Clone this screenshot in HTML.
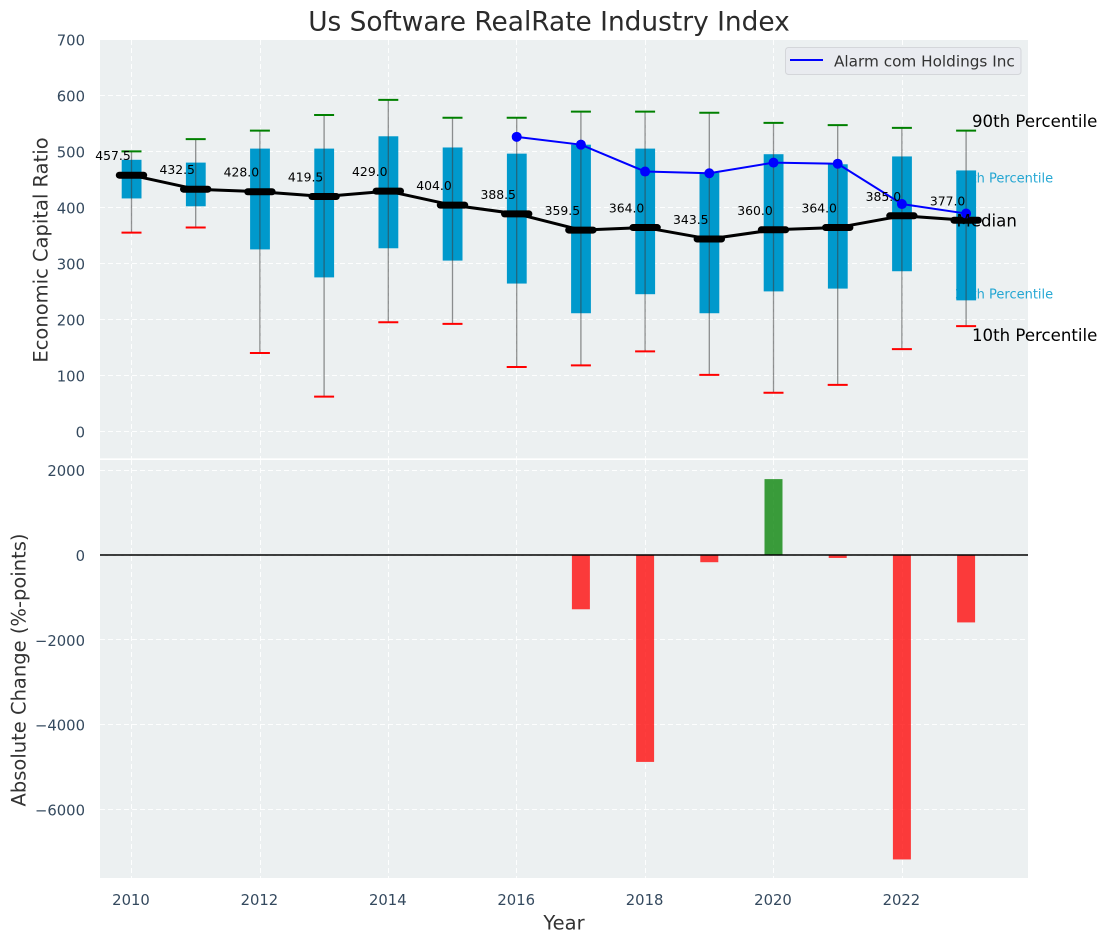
<!DOCTYPE html>
<html lang="en">
<head>
<meta charset="utf-8">
<title>Us Software RealRate Industry Index</title>
<style>
html,body{margin:0;padding:0;background:#fff;}
body{width:1107px;height:942px;overflow:hidden;}
svg{display:block;font-family:"DejaVu Sans","Liberation Sans",sans-serif;}
</style>
</head>
<body>
<svg id="chart" width="1107" height="942" viewBox="0 0 1107 942" xmlns="http://www.w3.org/2000/svg">
  <rect x="0" y="0" width="1107" height="942" fill="#ffffff"/>
  <rect x="100" y="40" width="928" height="418.5" fill="#ecf0f1"/>
  <rect x="100" y="460" width="928" height="418" fill="#ecf0f1"/>
  <g id="grid"></g>
  <g id="ticks" font-size="14.8" fill="#34495e"></g>
  <g id="percentile-notes" font-size="13" fill="#0099cc" fill-opacity="0.85">
    <text x="955" y="182.5">75th Percentile</text>
    <text x="955" y="298.5">25th Percentile</text>
  </g>
  <g id="boxes"></g>
  <g id="median"></g>
  <g id="alarm"></g>
  <g id="bars"></g>
  <g id="labels" font-size="12.4" fill="#000000"></g>
  <g font-size="16.6" fill="#000000">
    <text x="972" y="127">90th Percentile</text>
    <text x="956.5" y="226.5">Median</text>
    <text x="972" y="341">10th Percentile</text>
  </g>
  <g>
    <rect x="785.5" y="47.5" width="235.5" height="27" rx="3" fill="#e9ebf0" stroke="#d4d6da" stroke-width="1"/>
    <line x1="790" y1="60" x2="823" y2="60" stroke="#0000ff" stroke-width="2"/>
    <text x="834" y="66.5" font-size="15.25" fill="#333333">Alarm com Holdings Inc</text>
  </g>
  <text x="549" y="30.5" text-anchor="middle" font-size="26.4" fill="#2b2b2b">Us Software RealRate Industry Index</text>
  <text transform="translate(47.5,250) rotate(-90)" text-anchor="middle" font-size="19.5" fill="#333333">Economic Capital Ratio</text>
  <text transform="translate(25.5,670) rotate(-90)" text-anchor="middle" font-size="19.5" fill="#333333">Absolute Change (%-points)</text>
  <text x="564" y="929.5" text-anchor="middle" font-size="19.5" fill="#333333">Year</text>
</svg>
<script>
var years = [2010,2011,2012,2013,2014,2015,2016,2017,2018,2019,2020,2021,2022,2023];
var p90 = [500,522,537,565,592,560,560,571,571,569,551,547,542,537];
var p75 = [485,480,505,505,527,507,496,512,505,462,495,477,491,466];
var medianValues = [457.5,432.5,428,419.5,429,404,388.5,359.5,364,343.5,360,364,385,377];
var p25 = [416,402,325,275,327,305,264,211,245,211,250,255,286,234];
var p10 = [355,364,140,62,195,192,115,118,143,101,69,83,147,188];
var alarmYears = [2016,2017,2018,2019,2020,2021,2022,2023];
var alarmValues = [526,512,464,461,480,478,406,389];
var changeYears = [2017,2018,2019,2020,2021,2022,2023];
var changeValues = [-1280,-4880,-170,1790,-70,-7180,-1590];
var xTicks = [2010,2012,2014,2016,2018,2020,2022];
var topTicks = [0,100,200,300,400,500,600,700];
var bottomTicks = [2000,0,-2000,-4000,-6000];

function xScale(v){ return 131.5 + (v - 2010) * 64.2; }
function yTop(v){ return 431.4 - v * 0.56; }
function yBottom(v){ return 555 - v * 0.0424; }
function snap(v){ return Math.floor(v) + 0.5; }
function snapX(v){ return Math.round(v - 0.3) + 0.5; }

var NS = 'http://www.w3.org/2000/svg';
function add(parent, tag, attrs, text){
  var el = document.createElementNS(NS, tag);
  for (var k in attrs) el.setAttribute(k, attrs[k]);
  if (text !== undefined) el.textContent = text;
  document.getElementById(parent).appendChild(el);
  return el;
}
function fmt(v){ return v < 0 ? '\u2212' + Math.abs(v) : String(v); }
function seg(parent, x1, y1, x2, y2, stroke, width, extra){
  var a = {x1:x1, y1:y1, x2:x2, y2:y2, stroke:stroke, 'stroke-width':width};
  for (var k in (extra || {})) a[k] = extra[k];
  return add(parent, 'line', a);
}

var dash = {'stroke-dasharray':'5 3', 'stroke-opacity':'0.9'};
xTicks.forEach(function(t){
  var px = snapX(xScale(t));
  var g1 = seg('grid', px, 40, px, 458.5, '#ffffff', 1, dash);
  
  
  var g2 = seg('grid', px, 460, px, 878, '#ffffff', 1, dash);
  
  
  var tx = add('ticks', 'text', {x:xScale(t) - 0.5, y:905, 'text-anchor':'middle'}, String(t));
  
  
});
topTicks.forEach(function(t){
  var py = yTop(t);
  var g = seg('grid', 100, snap(py), 1028, snap(py), '#ffffff', 1, dash);
  
  
  var tx = add('ticks', 'text', {x:85, y:py + 6, 'text-anchor':'end'}, fmt(t));
  
  
});
bottomTicks.forEach(function(t){
  var py = yBottom(t);
  var g = seg('grid', 100, snap(py), 1028, snap(py), '#ffffff', 1, dash);
  
  
  var tx = add('ticks', 'text', {x:85, y:py + 6, 'text-anchor':'end'}, fmt(t));
  
  
});
var sep = seg('grid', 100, 459.2, 1028, 459.2, '#ffffff', 1.6);



years.forEach(function(y, i){
  var cx = xScale(y);
  var box = add('boxes', 'rect', {x:cx - 9.8, y:yTop(p75[i]), width:19.8, height:yTop(p25[i]) - yTop(p75[i]), fill:'#0099cc'});
  
  
  var w = seg('boxes', cx, yTop(p90[i]), cx, yTop(p10[i]), '#3c3c3c', 1.3, {'stroke-opacity':'0.55'});
  
  
  var hi = seg('boxes', cx - 10, yTop(p90[i]), cx + 10, yTop(p90[i]), '#008000', 2);
  
  
  var lo = seg('boxes', cx - 10, yTop(p10[i]), cx + 10, yTop(p10[i]), '#ff0000', 2);
  
  
  var m = seg('median', cx - 12.2, yTop(medianValues[i]), cx + 12.2, yTop(medianValues[i]), '#000000', 7, {'stroke-linecap':'round'});
  
  
  var lb = add('labels', 'text', {x:cx - 18.5, y:yTop(medianValues[i]) - 15, 'text-anchor':'middle'}, medianValues[i].toFixed(1));
  
  
});

var medLine = add('median', 'polyline', {
  points: years.map(function(y, i){ return xScale(y) + ',' + yTop(medianValues[i]); }).join(' '),
  fill:'none', stroke:'#000000', 'stroke-width':3, 'stroke-linejoin':'round'
});



var alarmLine = add('alarm', 'polyline', {
  points: alarmYears.map(function(y, i){ return xScale(y) + ',' + yTop(alarmValues[i]); }).join(' '),
  fill:'none', stroke:'#0000ff', 'stroke-width':2
});


alarmYears.forEach(function(y, i){
  var d = add('alarm', 'circle', {cx:xScale(y), cy:yTop(alarmValues[i]), r:5, fill:'#0000ff'});
  
  
});

changeYears.forEach(function(y, i){
  var v = changeValues[i];
  var top = Math.min(yBottom(v), yBottom(0));
  var b = add('bars', 'rect', {x:xScale(y) - 9, y:top, width:18, height:Math.abs(yBottom(v) - yBottom(0)), fill: v < 0 ? '#ff0000' : '#008000', 'fill-opacity':'0.76'});
  
  
});
var zero = seg('bars', 100, yBottom(0), 1028, yBottom(0), '#000000', 1.5);


</script>
</body>
</html>
